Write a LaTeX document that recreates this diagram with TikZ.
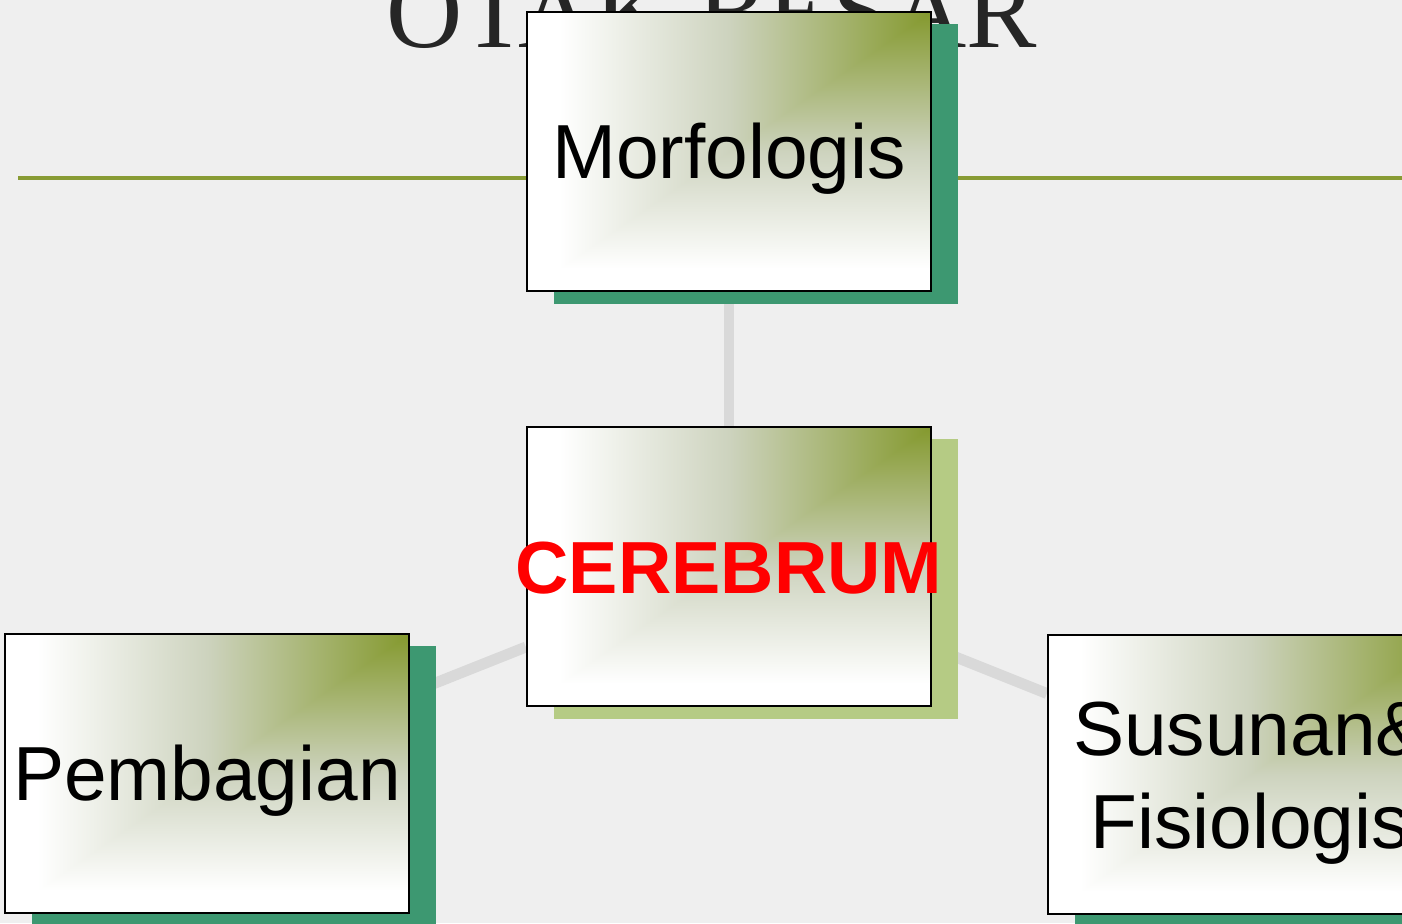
\documentclass[tikz,border=0pt]{standalone}
\usepackage{fontspec}
\setmainfont{Liberation Serif}
\newfontfamily\boxfont{Liberation Sans}
\usetikzlibrary{shadows}

\definecolor{paper}{RGB}{239,239,239}
\definecolor{titlegray}{RGB}{38,38,38}
\definecolor{olive}{RGB}{136,155,52}
\definecolor{linkgray}{RGB}{217,217,217}
\definecolor{shadowteal}{RGB}{61,152,113}
\definecolor{shadowlime}{RGB}{181,203,132}

\pgfdeclarelayer{backdrop}
\pgfdeclarelayer{links}
\pgfsetlayers{backdrop,links,main}

% white in the lower left, olive in the upper right corner
\pgfdeclarefunctionalshading{cornergreen}{\pgfpoint{0bp}{0bp}}{\pgfpoint{100bp}{100bp}}{}{
  75 exch sub 50 div
  exch 75 exch sub 50 div
  2 copy lt {exch} if pop
  dup 0 lt {pop 0} if
  dup 0.5 lt
  { 2 mul
    dup 0.286 mul 0.518 add exch
    dup 0.227 mul 0.600 add exch
    0.565 mul 0.180 add }
  { 0.5 sub 0.42 div dup 1 gt {pop 1} if
    dup 0.196 mul 0.804 add exch
    dup 0.173 mul 0.827 add exch
    0.255 mul 0.745 add }
  ifelse
}

\begin{document}
\begin{tikzpicture}[
        x=0.01cm,y=-0.01cm,
        every node/.style={font=\boxfont},
        slidetitle/.style={anchor=base,inner sep=0pt,text=titlegray,
            font=\rmfamily\fontsize{30}{36}\selectfont},
        titlerule/.style={draw=olive,line width=1pt},
        link/.style={draw=linkgray,line width=3.1pt},
        cardbox/.style={draw=black,line width=0.6pt,shading=cornergreen,
            minimum width=4.04cm,minimum height=2.79cm,inner sep=0pt,
            text height=15.6pt,text depth=0pt,align=center,
            font=\boxfont\fontsize{21.8}{26.2}\selectfont},
        topic/.style={cardbox,drop shadow={shadow xshift=0.27cm,
            shadow yshift=-0.125cm,fill=shadowteal,opacity=1}},
        hub/.style={cardbox,drop shadow={shadow xshift=0.27cm,
            shadow yshift=-0.125cm,fill=shadowlime,opacity=1}}
    ]

    \useasboundingbox (0,0) rectangle (1402,923);

    % Slide background
    \begin{pgfonlayer}{backdrop}
        \fill[paper] (0,0) rectangle (1402,923);
        \node[slidetitle] (title) at (712,47) {OTAK BESAR};
        \draw[titlerule] (18,178) -- (1402,178);
    \end{pgfonlayer}

    % Boxes
    \node[hub,text=red,font=\boxfont\bfseries\fontsize{21}{25}\selectfont]
        (cerebrum) at (729,566.5) {\makebox[0pt]{CEREBRUM}};
    \node[topic] (morfologis) at (729,151.5) {Morfologis};
    \node[topic] (pembagian) at (207,773.5) {Pembagian};
    \node[topic,text height=41.8pt] (susunan) at (1250,774.5)
        {Susunan\&\\Fisiologis};

    % Connectors
    \begin{pgfonlayer}{links}
        \draw[link] (cerebrum) -- (morfologis);
        \draw[link] (cerebrum) -- (pembagian);
        \draw[link] (cerebrum) -- (susunan);
    \end{pgfonlayer}

\end{tikzpicture}
\end{document}
